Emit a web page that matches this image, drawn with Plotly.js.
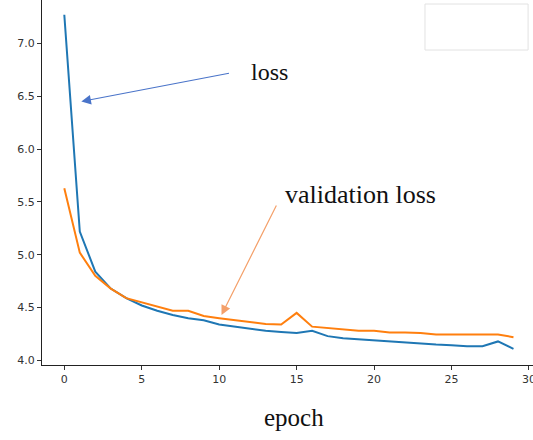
<!DOCTYPE html>
<html>
<head>
<meta charset="utf-8">
<script src="https://cdn.plot.ly/plotly-3.0.1.min.js"></script>
<style>html,body{margin:0;padding:0;background:#fff;}#chart{width:533px;height:440px;}</style>
</head>
<body>
<div id="chart"></div>
<script>
const epochs = Array.from({length: 30}, (_, i) => i);
const lossValues = [7.27, 5.22, 4.84, 4.68, 4.59, 4.52, 4.47, 4.43, 4.40, 4.38,
  4.34, 4.32, 4.30, 4.28, 4.27, 4.26, 4.28, 4.23, 4.21, 4.20,
  4.19, 4.18, 4.165, 4.16, 4.15, 4.145, 4.135, 4.135, 4.18, 4.11];
const valLossValues = [5.63, 5.02, 4.80, 4.68, 4.59, 4.55, 4.51, 4.47, 4.47, 4.42,
  4.40, 4.38, 4.36, 4.345, 4.34, 4.45, 4.32, 4.305, 4.29, 4.28,
  4.28, 4.265, 4.265, 4.26, 4.245, 4.245, 4.24, 4.245, 4.245, 4.22];
const xTicks = [0, 5, 10, 15, 20, 25, 30];
const yTicks = [4.0, 4.5, 5.0, 5.5, 6.0, 6.5, 7.0];
const yTickText = ["4.0", "4.5", "5.0", "5.5", "6.0", "6.5", "7.0"];
const lossLabel = "loss";
const valLabel = "validation loss";
const xLabel = "epoch";

const serif = "Liberation Serif, Times New Roman, serif";

const traces = [
  {x: epochs, y: lossValues, mode: "lines", line: {color: "#1f77b4", width: 2}, name: lossLabel},
  {x: epochs, y: valLossValues, mode: "lines", line: {color: "#ff7f0e", width: 2}, name: valLabel}
];

const layout = {
  width: 533, height: 440,
  margin: {l: 42, r: 0, t: 0, b: 75},
  paper_bgcolor: "#fff", plot_bgcolor: "#fff",
  showlegend: false,
  font: {family: "DejaVu Sans, sans-serif", size: 11, color: "#333"},
  xaxis: {
    range: [-1.44, 30.26], tickvals: xTicks, ticks: "outside", ticklen: 4, tickcolor: "#333",
    showgrid: false, zeroline: false, showline: true, linecolor: "#222", linewidth: 1,
    tickfont: {size: 11, color: "#333"}, ticklabeloverflow: "allow"
  },
  yaxis: {
    range: [3.957, 7.41], tickvals: yTicks, ticktext: yTickText, ticks: "outside", ticklen: 4, tickcolor: "#333",
    showgrid: false, zeroline: false, showline: true, linecolor: "#222", linewidth: 1,
    tickfont: {size: 11, color: "#333"}
  },
  shapes: [
    {type: "rect", xref: "paper", yref: "paper", x0: 0.78, x1: 0.99, y0: 0.863, y1: 0.989,
     line: {color: "#e2e2e2", width: 1}, fillcolor: "rgba(255,255,255,0)"}
  ],
  annotations: [
    {x: 1.10, y: 6.45, ax: 10.73, ay: 6.72, xref: "x", yref: "y", axref: "x", ayref: "y",
     text: "", showarrow: true, arrowhead: 2, arrowsize: 1.6, arrowwidth: 1.2, arrowcolor: "#4a74c9"},
    {x: 10.15, y: 4.43, ax: 13.74, ay: 5.48, xref: "x", yref: "y", axref: "x", ayref: "y",
     text: "", showarrow: true, arrowhead: 2, arrowsize: 1.6, arrowwidth: 1.2, arrowcolor: "#f4a06a"},
    {x: 11.90, y: 6.73, xref: "x", yref: "y", text: lossLabel, showarrow: false,
     xanchor: "left", yanchor: "middle", font: {family: serif, size: 24, color: "#111"}},
    {x: 14.12, y: 5.57, xref: "x", yref: "y", text: valLabel, showarrow: false,
     xanchor: "left", yanchor: "middle", font: {family: serif, size: 26, color: "#111"}},
    {x: 0.513, y: -0.145, xref: "paper", yref: "paper", text: xLabel, showarrow: false,
     xanchor: "center", yanchor: "middle", font: {family: serif, size: 25, color: "#111"}}
  ]
};

Plotly.newPlot("chart", traces, layout, {displayModeBar: false, staticPlot: true});
</script>
</body>
</html>
